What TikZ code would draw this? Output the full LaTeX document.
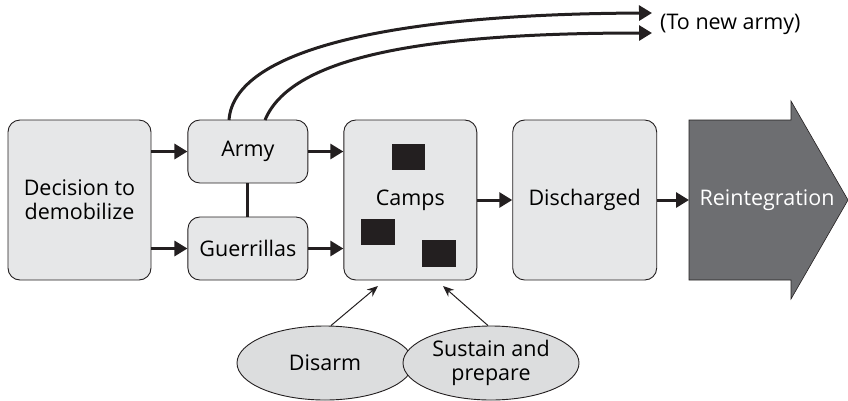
\documentclass[tikz,border=0pt]{standalone}
\usepackage{fontspec}
\setmainfont{Open Sans}
\usepackage{xcolor}
\definecolor{BoxGray}{RGB}{230,231,232}
\definecolor{OvalGray}{RGB}{220,221,222}
\definecolor{DarkGray}{RGB}{109,110,113}
\definecolor{InkBlack}{RGB}{35,31,32}
\usetikzlibrary{positioning}
\usetikzlibrary{arrows.meta}
\usetikzlibrary{shapes.geometric}

\begin{document}
\begin{tikzpicture}[
      x=1pt, y=-1pt
      , box/.style={draw=InkBlack, fill=BoxGray, rounded corners=12pt, line width=0.9pt, align=center, inner sep=0pt}
      , oval/.style={ellipse, draw=InkBlack, fill=OvalGray, line width=0.9pt, align=center, minimum width=176pt, minimum height=74pt, inner sep=0pt}
      , flow/.style={draw=InkBlack, line width=3pt, -{Triangle[length=13pt,width=15pt]}}
      , feed/.style={draw=InkBlack, line width=1pt, -{Stealth[length=11pt,width=9pt]}}
      , block/.style={fill=InkBlack}
      , font=\fontsize{21.5}{24}\selectfont
      ]

      \useasboundingbox (0,0) rectangle (848,400);

      \node[box, minimum width=143pt, minimum height=160pt] (decision) at (79.5,200) {Decision to\\demobilize};
      \node[box, minimum width=120pt, minimum height=63pt, right=36pt of decision.north east, anchor=north west] (army) {Army};
      \node[box, minimum width=120pt, minimum height=63pt, right=36pt of decision.south east, anchor=south west] (guerrillas) {Guerrillas};
      \node[box, minimum width=133pt, minimum height=160pt, right=35pt of army.north east, anchor=north west] (camps) {Camps};
      \node[box, minimum width=144pt, minimum height=160pt, right=35pt of camps] (discharged) {Discharged};

      % camp markers
      \fill[block] (392,144) rectangle (425,170);
      \fill[block] (361,219) rectangle (395,245);
      \fill[block] (422,240) rectangle (456,267);

      % reintegration arrow
      \coordinate (reint-in) at (689,200);
      \fill[DarkGray, draw=InkBlack, line width=0.6pt] (689,120) -- (791,120) -- (791,101) -- (848,200)
            -- (791,299) -- (791,280) -- (689,280) -- cycle;
      \node[text=white] (reint) at (767,200) {Reintegration};

      \node[oval] (disarm) at (325,363) {Disarm};
      \node[oval] (sustain) at (491,363) {Sustain and\\prepare};

      \node[anchor=west, inner sep=0pt] (newarmy) at (660,24) {(To new army)};
      \coordinate (out-top) at (652,13);
      \coordinate (out-bottom) at (652,33);

      \draw[flow] (decision.east |- army) -- (army);
      \draw[flow] (decision.east |- guerrillas) -- (guerrillas);
      \draw[flow] (army) -- (camps.west |- army);
      \draw[flow] (guerrillas) -- (camps.west |- guerrillas);
      \draw[flow] (camps) -- (discharged);
      \draw[flow] (discharged) -- (reint-in);
      \draw[draw=InkBlack, line width=3pt] (army) -- (guerrillas);

      \draw[flow] (229,120) .. controls (234,50) and (390,14) .. (out-top);
      \draw[flow] (265,120) .. controls (290,60) and (410,33) .. (out-bottom);

      \draw[feed] (disarm.north) ++(6,0) -- (378,286);
      \draw[feed] (sustain.north) ++(-3,0) -- (443,286);
    \end{tikzpicture}
\end{document}
